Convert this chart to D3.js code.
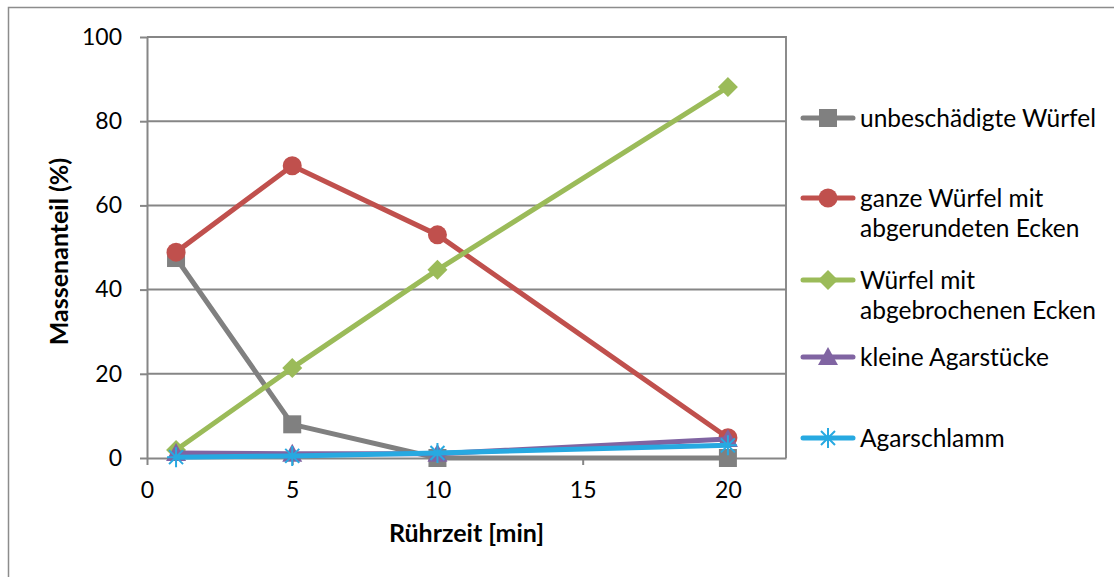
<!DOCTYPE html>
<html>
<head>
<meta charset="utf-8">
<script src="https://cdn.jsdelivr.net/npm/d3@7"></script>
<style>
  body { margin: 0; background: #fff; }
  svg text { font-family: "Lato", "Open Sans", sans-serif; fill: #000; }
</style>
</head>
<body>
<svg id="chart" width="1114" height="577"></svg>
<script>
// Stirring time in minutes
const ruehrzeit = [1, 5, 10, 20];

// Mass fraction (%) of each fragment class
const unbeschaedigt = [47.5, 8.0, 0.0, 0.0];
const abgerundet = [48.9, 69.4, 53.0, 4.8];
const abgebrochen = [1.9, 21.4, 44.7, 88.1];
const kleineStuecke = [1.2, 1.0, 1.0, 4.5];
const agarschlamm = [0.2, 0.5, 1.2, 3.0];

const seriesNames = [
  ["unbeschädigte Würfel"],
  ["ganze Würfel mit", "abgerundeten Ecken"],
  ["Würfel mit", "abgebrochenen Ecken"],
  ["kleine Agarstücke"],
  ["Agarschlamm"]
];
const seriesValues = [unbeschaedigt, abgerundet, abgebrochen, kleineStuecke, agarschlamm];
const seriesColors = ["#808080", "#C0504D", "#9BBB59", "#8064A2", "#27A9E1"];
const seriesMarkers = ["square", "circle", "diamond", "triangle", "star"];

const yTicks = [0, 20, 40, 60, 80, 100];
const xTicks = [0, 5, 10, 15, 20];

const svg = d3.select("#chart");
const plot = { left: 147, top: 37, right: 786, bottom: 458 };

const x = d3.scaleLinear().domain([0, 22]).range([plot.left, plot.right]);
const y = d3.scaleLinear().domain([0, 100]).range([plot.bottom, plot.top]);

// outer chart frame
svg.append("rect")
  .attr("x", 8.5).attr("y", 7.5).attr("width", 1120).attr("height", 590)
  .attr("fill", "none").attr("stroke", "#8c8c8c").attr("stroke-width", 1.5);

// plot area border (top / right)
svg.append("path")
  .attr("d", `M${plot.left},${plot.top}H${plot.right}V${plot.bottom}`)
  .attr("fill", "none").attr("stroke", "#8c8c8c").attr("stroke-width", 2);

// horizontal gridlines
svg.append("g").selectAll("line").data(yTicks.filter(d => d > 0)).join("line")
  .attr("x1", plot.left).attr("x2", plot.right)
  .attr("y1", d => y(d)).attr("y2", d => y(d))
  .attr("stroke", "#868686").attr("stroke-width", 2);

// y axis
const yAxis = svg.append("g")
  .attr("transform", `translate(${plot.left},0)`)
  .call(d3.axisLeft(y).tickValues(yTicks).tickSize(7).tickPadding(18).tickSizeOuter(0));
yAxis.select(".domain").attr("stroke", "#868686").attr("stroke-width", 2);
yAxis.selectAll(".tick line").attr("stroke", "#868686").attr("stroke-width", 2);
yAxis.selectAll(".tick text").attr("font-size", 23).style("font-family", "Lato, sans-serif");

// x axis
const xAxis = svg.append("g")
  .attr("transform", `translate(0,${plot.bottom})`)
  .call(d3.axisBottom(x).tickValues(xTicks).tickSize(7).tickPadding(17).tickSizeOuter(0));
xAxis.select(".domain").attr("stroke", "#868686").attr("stroke-width", 2);
xAxis.selectAll(".tick line").attr("stroke", "#868686").attr("stroke-width", 2);
xAxis.selectAll(".tick text").attr("font-size", 23).style("font-family", "Lato, sans-serif");

// axis titles
svg.append("text")
  .attr("x", (plot.left + plot.right) / 2).attr("y", 542)
  .attr("text-anchor", "middle").attr("font-size", 25).attr("font-weight", "bold")
  .text("Rührzeit [min]");
svg.append("text")
  .attr("transform", `translate(68,${(plot.top + plot.bottom) / 2 + 4}) rotate(-90)`)
  .attr("text-anchor", "middle").attr("font-size", 25).attr("font-weight", "bold")
  .text("Massenanteil (%)");

// marker shapes
function drawMarker(g, type, color) {
  if (type === "square") {
    g.append("rect").attr("x", -9).attr("y", -9).attr("width", 18).attr("height", 18).attr("fill", color);
  } else if (type === "circle") {
    g.append("circle").attr("r", 9.5).attr("fill", color);
  } else if (type === "diamond") {
    g.append("path").attr("d", "M0,-10L10,0L0,10L-10,0Z").attr("fill", color);
  } else if (type === "triangle") {
    g.append("path").attr("d", "M0,-10L10,8L-10,8Z").attr("fill", color);
  } else if (type === "star") {
    g.append("path")
      .attr("d", "M-9,0H9M0,-10V10M-7,-7L7,7M-7,7L7,-7")
      .attr("stroke", color).attr("stroke-width", 2).attr("fill", "none");
  }
}

const line = d3.line().x(d => x(d[0])).y(d => y(d[1]));

seriesValues.forEach((vals, i) => {
  const pts = ruehrzeit.map((t, j) => [t, vals[j]]);
  const g = svg.append("g");
  g.append("path").datum(pts)
    .attr("d", line).attr("fill", "none")
    .attr("stroke", seriesColors[i]).attr("stroke-width", 5)
    .attr("stroke-linejoin", "round");
  pts.forEach(p => {
    const m = g.append("g").attr("transform", `translate(${x(p[0])},${y(p[1])})`);
    drawMarker(m, seriesMarkers[i], seriesColors[i]);
  });
});

// legend
const legendRows = [118, 198, 280, 357, 438];
seriesNames.forEach((lines, i) => {
  const ly = legendRows[i];
  const g = svg.append("g");
  g.append("line").attr("x1", 803).attr("x2", 853).attr("y1", ly).attr("y2", ly)
    .attr("stroke", seriesColors[i]).attr("stroke-width", 5).attr("stroke-linecap", "round");
  const m = g.append("g").attr("transform", `translate(828,${ly})`);
  drawMarker(m, seriesMarkers[i], seriesColors[i]);
  lines.forEach((t, k) => {
    g.append("text").attr("x", 860).attr("y", ly + 9 + k * 30)
      .attr("font-size", 24.5).text(t);
  });
});
</script>
</body>
</html>
